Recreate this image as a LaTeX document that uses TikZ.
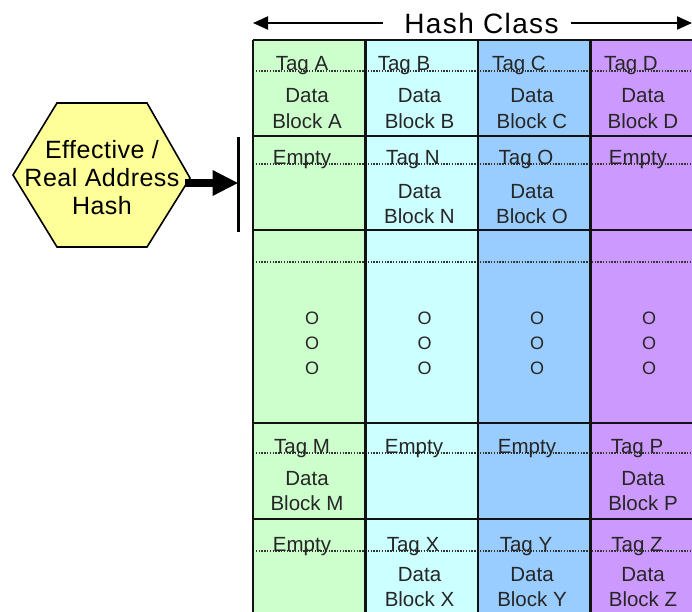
\documentclass[tikz,border=0pt]{standalone}
\usepackage{fontspec}
\setmainfont{Liberation Sans}
\newfontfamily\titlefont[LetterSpace=5]{Liberation Sans}
\newfontfamily\hexfont[LetterSpace=2]{Liberation Sans}
\usetikzlibrary{arrows.meta}
\definecolor{colA}{HTML}{CCFFCC}
\definecolor{colB}{HTML}{CCFFFF}
\definecolor{colC}{HTML}{99CCFF}
\definecolor{colD}{HTML}{CC99FF}
\definecolor{hexfill}{HTML}{FFFF99}
\definecolor{ink}{HTML}{262626}
\tikzset{
  gridline/.style={line width=2.4pt, draw=black!93},
  dotline/.style={line width=1.4pt, draw=black!80, dash pattern=on 1.4pt off 1.4pt},
  tagtext/.style={anchor=base, inner sep=0pt, text=ink, font=\fontsize{20.5}{24}\selectfont},
  celltext/.style={anchor=base, inner sep=0pt, text=ink, font=\fontsize{20.5}{24}\selectfont},
  moretext/.style={inner sep=0pt, text=ink, align=center, font=\fontsize{18}{25}\selectfont},
  hextext/.style={inner sep=0pt, align=center, font=\hexfont\fontsize{25}{28}\selectfont},
  titletext/.style={anchor=base, inner sep=0pt, font=\titlefont\fontsize{28}{30}\selectfont},
  spanarrow/.style={line width=2pt, -{Triangle[length=15pt,width=13pt]}},
}
\begin{document}
\begin{tikzpicture}[x=1pt, y=-1pt]
\useasboundingbox (0,0) rectangle (692,611);
\clip (0,0) rectangle (692,611);

% column backgrounds
\fill[colA] (253,40) rectangle (365.5,620);
\fill[colB] (365.5,40) rectangle (478,620);
\fill[colC] (478,40) rectangle (590.5,620);
\fill[colD] (590.5,40) rectangle (700,620);

% tag separators
\foreach \y in {71,164,262,453,551}
  \draw[dotline] (253,\y) -- (700,\y);

% grid
\foreach \y in {40,136,230,423,519}
  \draw[gridline] (253,\y) -- (700,\y);
\foreach \x in {253,365.5,478,590.5}
  \draw[gridline] (\x,40) -- (\x,620);

% title with span arrows
\coordinate (tl) at (253,23);
\coordinate (tr) at (692,23);
\node[titletext] (title) at (481.5,33) {Hash Class};
\draw[spanarrow] ([xshift=-21]title.west |- tl) -- (tl);
\draw[spanarrow] ([xshift=12]title.east |- tr) -- (tr);

% hash unit
\draw[line width=1.6pt, fill=hexfill] (57,103) -- (147,103) -- (190,178) -- (147,247) -- (57,247) -- (13,175) -- cycle;
\node[hextext] (hash) at (102,178) {Effective /\\Real Address\\Hash};
\coordinate (hexR) at (185,183);
\coordinate (barTop) at (238.5,137);
\coordinate (barBot) at (238.5,232);
\coordinate (barMid) at (238.5,183);
\draw[line width=2.4pt] (barTop) -- (barBot);
\draw[line width=8pt, -{Triangle[length=26pt,width=24pt]}] (hexR) -- (barMid);

% row 1
\node[tagtext] (tA) at (302,70) {Tag A};
\node[tagtext] (tB) at (404,70) {Tag B};
\node[tagtext] (tC) at (519,70) {Tag C};
\node[tagtext] (tD) at (631,70) {Tag D};
\node[celltext] (dA1) at (307,102) {Data};
\node[celltext] (bA1) at (307,128) {Block A};
\node[celltext] (dB1) at (419.5,102) {Data};
\node[celltext] (bB1) at (419.5,128) {Block B};
\node[celltext] (dC1) at (532,102) {Data};
\node[celltext] (bC1) at (532,128) {Block C};
\node[celltext] (dD1) at (643,102) {Data};
\node[celltext] (bD1) at (643,128) {Block D};

% row 2
\node[tagtext] (tA2) at (302,164) {Empty};
\node[tagtext] (tN) at (413,164) {Tag N};
\node[tagtext] (tO) at (526,164) {Tag O};
\node[tagtext] (tD2) at (638,164) {Empty};
\node[celltext] (dN) at (419.5,198) {Data};
\node[celltext] (bN) at (419.5,223.5) {Block N};
\node[celltext] (dO) at (532,198) {Data};
\node[celltext] (bO) at (532,223.5) {Block O};

% elided rows
\node[moretext] (mA) at (312,343) {O\\O\\O};
\node[moretext] (mB) at (424.5,343) {O\\O\\O};
\node[moretext] (mC) at (537,343) {O\\O\\O};
\node[moretext] (mD) at (649,343) {O\\O\\O};

% row 4
\node[tagtext] (tM) at (302,453) {Tag M};
\node[tagtext] (tB4) at (414,453) {Empty};
\node[tagtext] (tC4) at (527,453) {Empty};
\node[tagtext] (tP) at (637,453) {Tag P};
\node[celltext] (dM) at (307,485) {Data};
\node[celltext] (bM) at (307,510.5) {Block M};
\node[celltext] (dP) at (643,485) {Data};
\node[celltext] (bP) at (643,510.5) {Block P};

% row 5
\node[tagtext] (tA5) at (302,551) {Empty};
\node[tagtext] (tX) at (413,551) {Tag X};
\node[tagtext] (tY) at (526,551) {Tag Y};
\node[tagtext] (tZ) at (637,551) {Tag Z};
\node[celltext] (dX) at (419.5,581) {Data};
\node[celltext] (bX) at (419.5,606.5) {Block X};
\node[celltext] (dY) at (532,581) {Data};
\node[celltext] (bY) at (532,606.5) {Block Y};
\node[celltext] (dZ) at (643,581) {Data};
\node[celltext] (bZ) at (643,606.5) {Block Z};
\end{tikzpicture}
\end{document}
